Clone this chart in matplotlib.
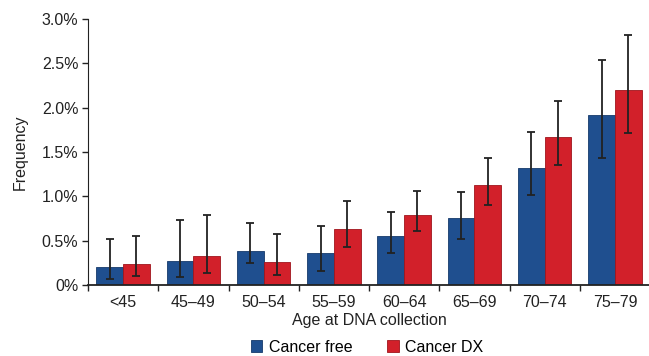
import matplotlib
matplotlib.use("Agg")
import matplotlib.pyplot as plt
import numpy as np
from matplotlib.ticker import FuncFormatter, FixedLocator

plt.rcParams['font.family'] = ['Liberation Sans', 'DejaVu Sans']

categories = ["<45", "45–49", "50–54", "55–59", "60–64", "65–69", "70–74", "75–79"]
free_vals = [0.20, 0.275, 0.387, 0.358, 0.55, 0.753, 1.325, 1.912]
free_hi = [0.52, 0.734, 0.70, 0.666, 0.82, 1.047, 1.724, 2.533]
free_lo = [0.064, 0.087, 0.245, 0.154, 0.358, 0.523, 1.013, 1.434]
dx_vals = [0.237, 0.331, 0.256, 0.632, 0.794, 1.133, 1.671, 2.198]
dx_hi = [0.557, 0.79, 0.572, 0.948, 1.065, 1.434, 2.074, 2.823]
dx_lo = [0.098, 0.139, 0.116, 0.433, 0.606, 0.907, 1.351, 1.716]

blue = "#1f4f8f"
red = "#d2202a"
fs = 11.5

fig = plt.figure(figsize=(6.49, 3.56), dpi=100)
ax = fig.add_axes([88/649, 1-285/356, (650-88)/649, (285-19)/356])

x = np.arange(len(categories))
w = 0.38
fv = np.array(free_vals); dv = np.array(dx_vals)
ax.bar(x - w/2, fv, w, color=blue, edgecolor="#163a6b", linewidth=0.6,
       yerr=[fv - np.array(free_lo), np.array(free_hi) - fv],
       error_kw=dict(ecolor="#222222", elinewidth=1.3, capsize=3, capthick=1.3),
       label="Cancer free", zorder=2)
ax.bar(x + w/2, dv, w, color=red, edgecolor="#a0151c", linewidth=0.6,
       yerr=[dv - np.array(dx_lo), np.array(dx_hi) - dv],
       error_kw=dict(ecolor="#222222", elinewidth=1.3, capsize=3, capthick=1.3),
       label="Cancer DX", zorder=2)

ax.set_xlim(-0.5, len(categories) - 0.5)
ax.set_ylim(0, 3.0)
ax.set_yticks(np.arange(0, 3.01, 0.5))
ax.yaxis.set_major_formatter(FuncFormatter(lambda v, p: "0%" if v == 0 else f"{v:.1f}%"))
ax.set_xticks(x)
ax.set_xticklabels(categories)
ax.tick_params(axis='x', which='major', length=0, pad=7, labelsize=fs, colors="#222222")
ax.xaxis.set_minor_locator(FixedLocator(np.arange(-0.5, len(categories), 1.0)))
ax.tick_params(axis='x', which='minor', length=4, width=1, direction='out', color="#222222")
ax.tick_params(axis='y', length=4, width=1, direction='out', labelsize=fs, colors="#222222", pad=3)

for s in ["top", "right"]:
    ax.spines[s].set_visible(False)
ax.spines["left"].set_color("#222222")
ax.spines["bottom"].set_color("#222222")
ax.spines["bottom"].set_linewidth(1.3)

ax.set_ylabel("Frequency", fontsize=fs, color="#222222", labelpad=10)
ax.set_xlabel("Age at DNA collection", fontsize=fs, color="#222222", labelpad=2)

leg = fig.legend(loc="center", bbox_to_anchor=(367/649, 1-347/356), ncol=2, frameon=False,
                 fontsize=fs, handlelength=0.7, handleheight=0.7, handletextpad=0.4,
                 columnspacing=2.2)

fig.savefig("out.png", dpi=100)
